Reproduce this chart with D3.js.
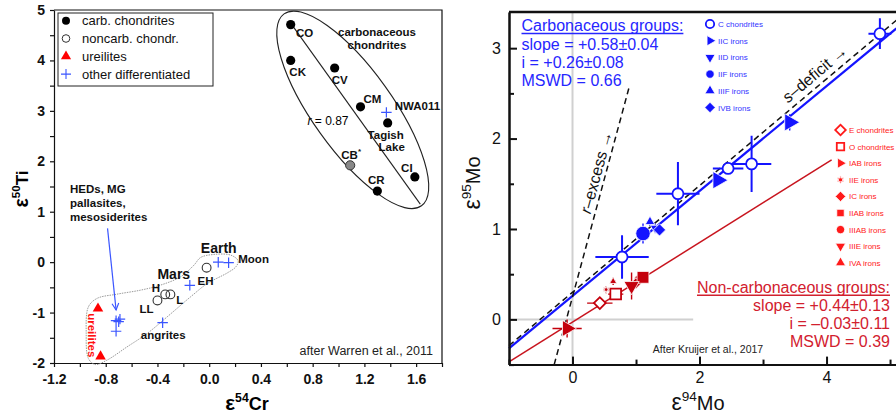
<!DOCTYPE html>
<html>
  <head>
    <meta charset="utf-8">
    <title>Isotopic dichotomy: Ti-Cr and Mo</title>
    <meta name="viewport" content="width=device-width, initial-scale=1.0">
    <script src="https://d3js.org/d3.v7.min.js"></script>
    <style>
      body { margin: 0; background: #fff; }
      svg { display: block; font-family: "Liberation Sans", Arial, Helvetica, sans-serif; }
      .axisL text { font-size: 14px; font-weight: bold; fill: #111; font-family: "Liberation Sans", Arial, sans-serif; }
      .axisL path, .axisL line { stroke: #111; stroke-width: 1.2; }
      .axisR text { font-size: 16px; fill: #111; font-family: "Liberation Sans", Arial, sans-serif; }
      .axisR path, .axisR line { stroke: #111; stroke-width: 2; }
      .lab { font-size: 11.5px; font-weight: bold; fill: #111; }
    </style>
  </head>
  <body>
    <svg id="chart" width="896" height="415"></svg>
    <script>
      // ---------- left panel data: e54Cr vs e50Ti ----------
      const carbNames = ["CO", "CK", "CV", "CM", "Tagish Lake", "CR", "CI"];
      const carbCr = [0.63, 0.63, 0.97, 1.17, 1.38, 1.30, 1.59];
      const carbTi = [4.71, 4.00, 3.85, 3.08, 2.76, 1.41, 1.69];
      const cbStar = [1.09, 1.92];
      const noncarbNames = ["EH", "H", "L", "LL"];
      const noncarbCr = [-0.02, -0.34, -0.30, -0.40];
      const noncarbTi = [-0.11, -0.64, -0.64, -0.76];
      const diffNames = ["NWA011", "Earth", "Moon", "Mars", "angrites", "", "", "", ""];
      const diffCr = [1.37, 0.07, 0.15, -0.15, -0.36, -0.69, -0.70, -0.72, -0.72];
      const diffTi = [2.97, 0.00, -0.01, -0.46, -1.20, -1.13, -1.18, -1.16, -1.37];
      const ureiliteCr = [-0.86, -0.84];
      const ureiliteTi = [-0.92, -1.87];
      const crTicks = d3.range(-6, 10).map(i => i / 5);
      const tiTicks = d3.range(-4, 11).map(i => i / 2);
      // outline of the non-carbonaceous field
      const noncarbField = [[-0.868, -0.72], [-0.713, -0.635], [-0.532, -0.556], [-0.377, -0.456], [-0.221, -0.29],
        [-0.118, -0.06], [-0.066, 0.093], [0.037, 0.153], [0.167, 0.139], [0.224, 0.026], [0.206, -0.093],
        [0.141, -0.212], [-0.014, -0.423], [-0.144, -0.688], [-0.325, -1.085], [-0.48, -1.415], [-0.635, -1.68],
        [-0.791, -1.944], [-0.882, -2.03], [-0.934, -1.91], [-0.951, -1.415], [-0.934, -0.887]];
      const carbEllipseCentre = [1.11, 3.02];
      const hedArrow = [[-0.786, 0.67], [-0.72, -0.95]];

      // ---------- right panel data: e94Mo vs e95Mo ----------
      const carbGroups = ["C chondrites", "IIC irons", "IID irons", "IIF irons", "IIIF irons", "IVB irons"];
      const carbX = [[4.84, 2.82, 2.45, 1.66, 0.78], [3.42, 2.29], [1.30], [1.11], [1.22], [1.37]];
      const carbY = [[3.16, 1.72, 1.67, 1.39, 0.69], [2.18, 1.54], [1.01], [0.95], [1.08], [0.99]];
      const carbErrX = [[0.18, 0.31, 0.24, 0.34, 0.42], [0.06, 0.05], [0.04], [0.05], [0.04], [0.05]];
      const carbErrY = [[0.17, 0.31, 0.04, 0.35, 0.24], [0.09, 0.06], [0.05], [0.11], [0.05], [0.05]];
      const nonCarbGroups = ["E chondrites", "O chondrites", "IAB irons", "IIE irons", "IC irons", "IIAB irons", "IIIAB irons", "IIIE irons", "IVA irons"];
      const nonCarbX = [[0.43], [0.68], [-0.085], [0.53], [1.00], [1.11], [1.04], [0.93], [0.64]];
      const nonCarbY = [[0.18], [0.28], [-0.10], [0.33], [0.40], [0.465], [0.44], [0.37], [0.42]];
      const nonCarbErrX = [[0.20], [0.12], [0.23], [0.04], [0.05], [0.05], [0.05], [0.05], [0.04]];
      const nonCarbErrY = [[0.04], [0.04], [0.10], [0.04], [0.05], [0.05], [0.05], [0.15], [0.04]];
      const carbFit = [0.58, 0.26];       // slope, intercept
      const nonCarbFit = [0.44, -0.03];
      const sDeficit = [0.59, 0.30];
      const rExcess = [2.6, 0.25];
      const carbText = ["Carbonaceous groups:", "slope = +0.58±0.04", "i = +0.26±0.08", "MSWD = 0.66"];
      const nonCarbText = ["Non-carbonaceous groups:", "slope = +0.44±0.13", "i = \u20130.03±0.11", "MSWD = 0.39"];

      // colours
      const blue = "#1414ff", darkRed = "#c4000c", legendRed = "#ff1a1a", textRed = "#d2202e", plusBlue = "#3a55ff";

      const svg = d3.select("#chart");

      function epsLabel(sel, iso, el, size) {
        sel.append("tspan").attr("font-size", size * 1.15).text("ε");
        sel.append("tspan").attr("font-size", size * 0.68).attr("dy", -size * 0.45).text(iso);
        sel.append("tspan").attr("font-size", size).attr("dy", size * 0.45).text(el);
      }

      // =============== LEFT PANEL ===============
      const xL = d3.scaleLinear().domain([-1.2, 1.8]).range([54, 442]);
      const yL = d3.scaleLinear().domain([-2, 5]).range([363, 10]);
      const gL = svg.append("g");

      gL.append("path")
        .attr("d", "M" + xL(-1.2) + "," + yL(5) + "H" + xL(1.8) + "V" + yL(-2))
        .attr("fill", "none").attr("stroke", "#111").attr("stroke-width", 1.2);

      gL.append("g").attr("class", "axisL")
        .attr("transform", "translate(0," + yL(-2) + ")")
        .call(d3.axisBottom(xL).tickValues(crTicks).tickSize(4).tickPadding(7).tickSizeOuter(0)
          .tickFormat(d => Math.round(d * 10) % 4 === 0 ? d.toFixed(1) : ""));
      gL.append("g").attr("class", "axisL")
        .attr("transform", "translate(" + xL(-1.2) + ",0)")
        .call(d3.axisLeft(yL).tickValues(tiTicks).tickSize(4).tickPadding(5).tickSizeOuter(0)
          .tickFormat(d => Number.isInteger(d) ? d : ""));

      // axis titles
      gL.append("text").attr("transform", "translate(28,189) rotate(-90)")
        .attr("text-anchor", "middle").attr("font-weight", "bold")
        .call(epsLabel, "50", "Ti", 17);
      gL.append("text").attr("x", 247).attr("y", 410)
        .attr("text-anchor", "middle").attr("font-weight", "bold")
        .call(epsLabel, "54", "Cr", 18);

      // non-carbonaceous field
      gL.append("path")
        .attr("d", d3.line().x(d => xL(d[0])).y(d => yL(d[1])).curve(d3.curveCatmullRomClosed)(noncarbField))
        .attr("fill", "none").attr("stroke", "#9a9a9a").attr("stroke-width", 1).attr("stroke-dasharray", "1.5,1");

      // carbonaceous ellipse + trend
      const ec = [xL(carbEllipseCentre[0]), yL(carbEllipseCentre[1])];
      const eg = gL.append("g").attr("transform", "translate(" + ec[0] + "," + ec[1] + ") rotate(54.4)");
      eg.append("ellipse").attr("rx", 118).attr("ry", 40)
        .attr("fill", "none").attr("stroke", "#222").attr("stroke-width", 1.1);
      eg.append("line").attr("x1", -106).attr("x2", 116)
        .attr("stroke", "#222").attr("stroke-width", 1.1);

      // arrow from the HED label
      svg.append("defs").append("marker")
        .attr("id", "arrowBlue").attr("viewBox", "-8 -5 10 10")
        .attr("markerWidth", 8).attr("markerHeight", 8).attr("orient", "auto")
        .append("path").attr("d", "M-7,-3.5L0,0L-7,3.5").attr("fill", "none").attr("stroke", plusBlue).attr("stroke-width", 1.2);
      gL.append("line")
        .attr("x1", xL(hedArrow[0][0])).attr("y1", yL(hedArrow[0][1]))
        .attr("x2", xL(hedArrow[1][0])).attr("y2", yL(hedArrow[1][1]))
        .attr("stroke", plusBlue).attr("stroke-width", 1.2).attr("marker-end", "url(#arrowBlue)");

      // points
      const plus = { draw(ctx, size) { const r = Math.sqrt(size) / 2; ctx.moveTo(-r, 0); ctx.lineTo(r, 0); ctx.moveTo(0, -r); ctx.lineTo(0, r); } };
      gL.selectAll(".carb").data(carbCr).enter().append("circle")
        .attr("cx", d => xL(d)).attr("cy", (d, i) => yL(carbTi[i])).attr("r", 4.6).attr("fill", "#000");
      gL.append("circle").attr("cx", xL(cbStar[0])).attr("cy", yL(cbStar[1])).attr("r", 4.6)
        .attr("fill", "#888").attr("stroke", "#333").attr("stroke-width", 1);
      gL.selectAll(".noncarb").data(noncarbCr).enter().append("circle")
        .attr("cx", d => xL(d)).attr("cy", (d, i) => yL(noncarbTi[i])).attr("r", 4.4)
        .attr("fill", "none").attr("stroke", "#333").attr("stroke-width", 1.1);
      gL.selectAll(".diff").data(diffCr).enter().append("path")
        .attr("transform", (d, i) => "translate(" + xL(d) + "," + yL(diffTi[i]) + ")")
        .attr("d", d3.symbol().type(plus).size(110))
        .attr("fill", "none").attr("stroke", plusBlue).attr("stroke-width", 1.2);
      gL.selectAll(".ureilite").data(ureiliteCr).enter().append("path")
        .attr("transform", (d, i) => "translate(" + xL(d) + "," + yL(ureiliteTi[i]) + ")")
        .attr("d", d3.symbol().type(d3.symbolTriangle).size(48)).attr("fill", "#ff0000");

      // point labels: [dx, dy] from the point centre
      const carbLabelOff = [[14, 8], [7, 12], [5, 12], [12, -8], [0, 0], [-1, -11], [-8, -9]];
      carbNames.forEach((n, i) => {
        if (n === "Tagish Lake") return;
        gL.append("text").attr("class", "lab").attr("text-anchor", "middle").attr("dominant-baseline", "central")
          .attr("x", xL(carbCr[i]) + carbLabelOff[i][0]).attr("y", yL(carbTi[i]) + carbLabelOff[i][1]).text(n);
      });
      const tl = carbNames.indexOf("Tagish Lake");
      gL.append("text").attr("class", "lab").attr("text-anchor", "middle").attr("dominant-baseline", "central")
        .attr("x", xL(carbCr[tl]) - 2).attr("y", yL(carbTi[tl]) + 12).text("Tagish");
      gL.append("text").attr("class", "lab").attr("text-anchor", "middle").attr("dominant-baseline", "central")
        .attr("x", xL(carbCr[tl]) + 4).attr("y", yL(carbTi[tl]) + 24).text("Lake");
      const cbl = gL.append("text").attr("class", "lab").attr("text-anchor", "middle").attr("dominant-baseline", "central")
        .attr("x", xL(cbStar[0]) + 1).attr("y", yL(cbStar[1]) - 10);
      cbl.append("tspan").text("CB");
      cbl.append("tspan").attr("font-size", 8).attr("dy", -4).text("*");

      const noncarbLabelOff = [[-1, 13], [-9.4, -6], [9.3, 5.6], [-11, 9]];
      noncarbNames.forEach((n, i) => {
        gL.append("text").attr("class", "lab").attr("text-anchor", "middle").attr("dominant-baseline", "central")
          .attr("x", xL(noncarbCr[i]) + noncarbLabelOff[i][0]).attr("y", yL(noncarbTi[i]) + noncarbLabelOff[i][1]).text(n);
      });
      const diffLabelOff = [[31, -6], [0.5, -14.5], [25, -3.5], [-16, -11], [0.6, 12]];
      diffNames.forEach((n, i) => {
        if (!n) return;
        gL.append("text").attr("class", "lab").attr("text-anchor", "middle").attr("dominant-baseline", "central")
          .style("font-size", (n === "Earth" || n === "Mars") ? "14px" : null)
          .attr("x", xL(diffCr[i]) + diffLabelOff[i][0]).attr("y", yL(diffTi[i]) + diffLabelOff[i][1]).text(n);
      });
      gL.append("text").attr("class", "lab").attr("text-anchor", "middle")
        .attr("dominant-baseline", "central")
        .attr("transform", "translate(" + (xL(ureiliteCr[0]) - 6) + "," + (yL(-1.45)) + ") rotate(90)")
        .style("fill", "#ff1010").text("ureilites");

      ["carbonaceous", "chondrites"].forEach((t, i) => {
        gL.append("text").attr("class", "lab").attr("text-anchor", "middle").attr("dominant-baseline", "central")
          .attr("x", 377).attr("y", 31.5 + i * 13.5).text(t);
      });
      ["HEDs, MG", "pallasites,", "mesosiderites"].forEach((t, i) => {
        gL.append("text").attr("class", "lab").attr("dominant-baseline", "central")
          .attr("x", 70).attr("y", 189 + i * 14).text(t);
      });
      const rl = gL.append("text").attr("text-anchor", "middle").attr("dominant-baseline", "central")
        .attr("font-size", 12).attr("x", 328).attr("y", 121);
      rl.append("tspan").attr("font-style", "italic").text("r");
      rl.append("tspan").text(" = 0.87");
      gL.append("text").attr("text-anchor", "end").attr("font-size", 12.5).attr("fill", "#222")
        .attr("x", 433).attr("y", 354.5).text("after Warren et al., 2011");

      // legend
      gL.append("rect").attr("x", 58).attr("y", 13).attr("width", 155).attr("height", 73)
        .attr("fill", "#fff").attr("stroke", "#222").attr("stroke-width", 1);
      const legL = ["carb. chondrites", "noncarb. chondr.", "ureilites", "other differentiated"];
      legL.forEach((t, i) => {
        const y = 20.7 + i * 17.8;
        gL.append("text").attr("x", 82).attr("y", y + 4.6).attr("font-size", 13).attr("fill", "#111").text(t);
        const s = gL.append("g").attr("transform", "translate(66," + y + ")");
        if (i === 0) s.append("circle").attr("r", 4).attr("fill", "#000");
        if (i === 1) s.append("circle").attr("r", 3.8).attr("fill", "none").attr("stroke", "#333");
        if (i === 2) s.append("path").attr("d", d3.symbol().type(d3.symbolTriangle).size(45)).attr("fill", "#ff0000");
        if (i === 3) s.append("path").attr("d", d3.symbol().type(plus).size(100)).attr("fill", "none").attr("stroke", plusBlue).attr("stroke-width", 1.1);
      });

      // =============== RIGHT PANEL ===============
      const xR = d3.scaleLinear().domain([-1, 5.1]).range([509, 896.4]);
      const yR = d3.scaleLinear().domain([-0.5, 3.4]).range([364.6, 12]);
      const gR = svg.append("g");
      const line = d3.line().x(d => xR(d[0])).y(d => yR(d[1]));

      // zero lines
      gR.append("path").attr("d", line([[0, -0.5], [0, 3.4]])).attr("stroke", "#d0d0d0").attr("stroke-width", 2);
      gR.append("path").attr("d", line([[-1, 0], [1.9, 0]])).attr("stroke", "#d0d0d0").attr("stroke-width", 2);

      function fit(p, x0, x1) { return [[x0, p[0] * x0 + p[1]], [x1, p[0] * x1 + p[1]]]; }
      gR.append("path").attr("d", line(fit(nonCarbFit, -1, 4.08)))
        .attr("fill", "none").attr("stroke", "#c8141e").attr("stroke-width", 1.5);
      gR.append("path").attr("d", line(fit(carbFit, -1, 5.1)))
        .attr("fill", "none").attr("stroke", blue).attr("stroke-width", 2.2);
      gR.append("path").attr("d", line(fit(sDeficit, -1, 5.1)))
        .attr("fill", "none").attr("stroke", "#111").attr("stroke-width", 1.5).attr("stroke-dasharray", "6,4");
      const rx0 = (-0.5 - rExcess[1]) / rExcess[0], rx1 = (2.56 - rExcess[1]) / rExcess[0];
      gR.append("path").attr("d", line(fit(rExcess, rx0, rx1)))
        .attr("fill", "none").attr("stroke", "#111").attr("stroke-width", 1.5).attr("stroke-dasharray", "6,4");

      // line labels
      function angleOf(p) { return Math.atan2(yR(p[0]) - yR(0), xR(1) - xR(0)) * 180 / Math.PI; }
      const rAtY = 1.6, rAtX = (rAtY - rExcess[1]) / rExcess[0];
      const rt = gR.append("text").attr("font-size", 16).attr("text-anchor", "middle").attr("fill", "#111")
        .attr("transform", "translate(" + xR(rAtX) + "," + yR(rAtY) + ") rotate(" + angleOf(rExcess) + ")")
        .attr("dy", -4);
      rt.append("tspan").attr("font-style", "italic").text("r");
      rt.append("tspan").text("\u2013excess \u2192");
      const sAtX = 3.93;
      const st = gR.append("text").attr("font-size", 16).attr("text-anchor", "middle").attr("fill", "#111")
        .attr("transform", "translate(" + xR(sAtX) + "," + yR(sDeficit[0] * sAtX + sDeficit[1]) + ") rotate(" + angleOf(sDeficit) + ")")
        .attr("dy", -6);
      st.append("tspan").attr("font-style", "italic").text("s");
      st.append("tspan").text("\u2013deficit \u2192");

      // marker shapes
      const shapes = {
        circle: [d3.symbolCircle, 0], triUp: [d3.symbolTriangle, 0], triDown: [d3.symbolTriangle, 180],
        triRight: [d3.symbolTriangle, 90], square: [d3.symbolSquare, 0], diamond: [d3.symbolSquare, 45],
        star: [{ draw(ctx, size) {
          const r = Math.sqrt(size) * 0.75;
          for (let k = 0; k < 2; k++) {
            for (let j = 0; j < 3; j++) {
              const a = (j * 120 + k * 60 - 90) * Math.PI / 180;
              j === 0 ? ctx.moveTo(r * Math.cos(a), r * Math.sin(a)) : ctx.lineTo(r * Math.cos(a), r * Math.sin(a));
            }
            ctx.closePath();
          }
        } }, 0]
      };
      function marker(g, x, y, shape, size, colour, open) {
        const s = shapes[shape.replace("Open", "")];
        g.append("path")
          .attr("transform", "translate(" + x + "," + y + ") rotate(" + s[1] + ")")
          .attr("d", d3.symbol().type(s[0]).size(size))
          .attr("fill", open ? "#fff" : colour)
          .attr("stroke", open ? colour : "#fff")
          .attr("stroke-width", open ? 1.8 : 0.8);
      }
      function errorBars(g, xs, ys, ex, ey, colour, w) {
        xs.forEach((x, i) => {
          g.append("path").attr("d", line([[x - ex[i], ys[i]], [x + ex[i], ys[i]]]) + line([[x, ys[i] - ey[i]], [x, ys[i] + ey[i]]]))
            .attr("stroke", colour).attr("stroke-width", w).attr("fill", "none");
        });
      }

      const carbShapes = ["circleOpen", "triRight", "triDown", "circle", "triUp", "diamond"];
      const carbSizes = [95, 130, 40, 165, 40, 75];
      const nonCarbShapes = ["diamondOpen", "squareOpen", "triRight", "star", "diamond", "square", "circle", "triDown", "triUp"];
      const nonCarbSizes = [70, 115, 110, 22, 60, 140, 60, 100, 22];
      const nonCarbOrder = [6, 4, 0, 1, 2, 3, 5, 7, 8];

      nonCarbOrder.forEach(k => errorBars(gR, nonCarbX[k], nonCarbY[k], nonCarbErrX[k], nonCarbErrY[k], darkRed, 1.4));
      nonCarbOrder.forEach(k => nonCarbX[k].forEach((x, i) =>
        marker(gR, xR(x), yR(nonCarbY[k][i]), nonCarbShapes[k], nonCarbSizes[k], darkRed, nonCarbShapes[k].includes("Open"))));
      carbGroups.forEach((g, k) => errorBars(gR, carbX[k], carbY[k], carbErrX[k], carbErrY[k], blue, k === 0 ? 2 : 1.4));
      carbGroups.forEach((g, k) => carbX[k].forEach((x, i) =>
        marker(gR, xR(x), yR(carbY[k][i]), carbShapes[k], carbSizes[k], blue, carbShapes[k].includes("Open"))));

      // axes (inward ticks)
      gR.append("g").attr("class", "axisR").attr("transform", "translate(0," + yR(-0.5) + ")")
        .call(d3.axisBottom(xR).tickValues([-1, 1, 3, 5]).tickSize(-5).tickFormat("").tickSizeOuter(0));
      gR.append("g").attr("class", "axisR").attr("transform", "translate(0," + yR(-0.5) + ")")
        .call(d3.axisBottom(xR).tickValues([0, 2, 4]).tickSize(-8).tickPadding(7).tickSizeOuter(0).tickFormat(d3.format("d")));
      gR.append("g").attr("class", "axisR").attr("transform", "translate(" + xR(-1) + ",0)")
        .call(d3.axisLeft(yR).tickValues([-0.5, 0.5, 1.5, 2.5]).tickSize(-5).tickFormat("").tickSizeOuter(0));
      gR.append("g").attr("class", "axisR").attr("transform", "translate(" + xR(-1) + ",0)")
        .call(d3.axisLeft(yR).tickValues([0, 1, 2, 3]).tickSize(-8).tickPadding(8).tickSizeOuter(0).tickFormat(d3.format("d")));
      gR.append("path").attr("d", line([[-1, 3.4], [5.1, 3.4]])).attr("stroke", "#111").attr("stroke-width", 2.4);

      gR.append("text").attr("transform", "translate(480,183) rotate(-90)").attr("text-anchor", "middle")
        .attr("fill", "#111").call(epsLabel, "95", "Mo", 20);
      gR.append("text").attr("x", 698).attr("y", 410).attr("text-anchor", "middle")
        .attr("fill", "#111").call(epsLabel, "94", "Mo", 20);

      // fit result boxes
      carbText.forEach((t, i) => {
        const tx = gR.append("text").attr("x", 521.5).attr("y", 31.4 + i * 18.1)
          .attr("font-size", 16).attr("fill", "#2626ff").text(t);
        if (i === 0) {
          const w = tx.node().getComputedTextLength();
          gR.append("line").attr("x1", 521.5).attr("x2", 521.5 + w).attr("y1", 33.5).attr("y2", 33.5)
            .attr("stroke", "#2626ff").attr("stroke-width", 1.5);
        }
      });
      nonCarbText.forEach((t, i) => {
        const tx = gR.append("text").attr("x", 890).attr("y", 293 + i * 18.1).attr("text-anchor", "end")
          .attr("font-size", 16).attr("fill", textRed).text(t);
        if (i === 0) {
          const w = tx.node().getComputedTextLength();
          gR.append("line").attr("x1", 890 - w).attr("x2", 890).attr("y1", 295.2).attr("y2", 295.2)
            .attr("stroke", textRed).attr("stroke-width", 1.5);
        }
      });
      gR.append("text").attr("x", 708).attr("y", 352.5).attr("text-anchor", "middle")
        .attr("font-size", 10.5).attr("fill", "#222").text("After Kruijer et al., 2017");

      // legends
      carbGroups.forEach((g, k) => {
        const y = 24 + k * 16.7;
        marker(gR, 710, y, carbShapes[k], carbShapes[k].startsWith("tri") ? 45 : 55, blue, carbShapes[k].includes("Open"));
        gR.append("text").attr("x", 718).attr("y", y + 3).attr("font-size", 8).attr("fill", "#3434ff").text(g);
      });
      nonCarbGroups.forEach((g, k) => {
        const y = 130 + k * 16.6;
        marker(gR, 840.5, y, nonCarbShapes[k], nonCarbShapes[k] === "star" ? 30 : (nonCarbShapes[k].startsWith("tri") ? 45 : 55), legendRed, nonCarbShapes[k].includes("Open"));
        gR.append("text").attr("x", 849).attr("y", y + 3).attr("font-size", 8).attr("fill", legendRed).text(g);
      });
    </script>
  </body>
</html>
